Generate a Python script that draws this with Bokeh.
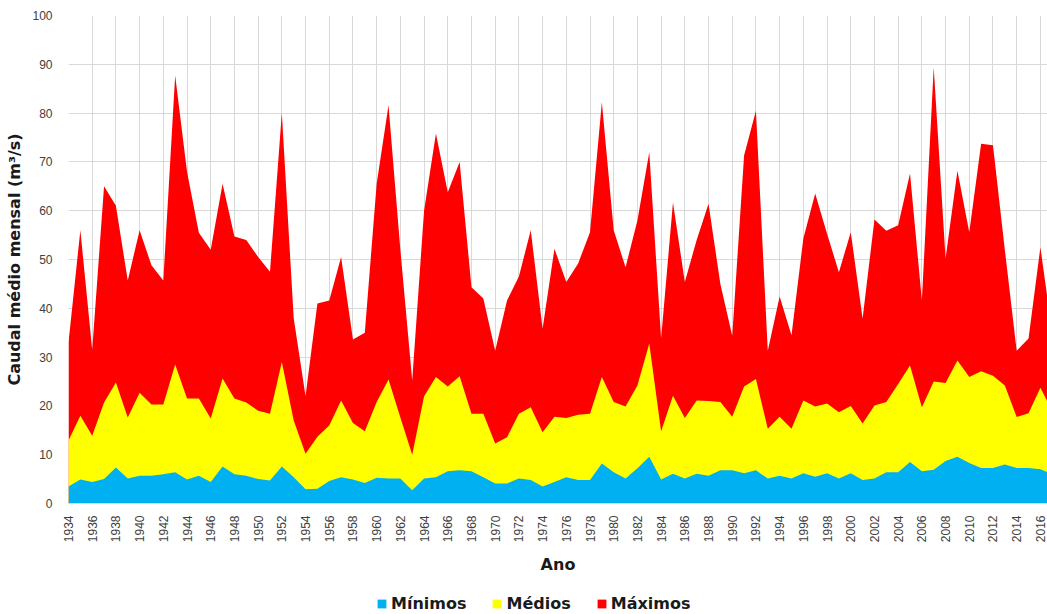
import math
from bokeh.plotting import figure
from bokeh.models import FixedTicker, Legend, LegendItem, Range1d
from bokeh.layouts import column
from bokeh.embed import file_html
from bokeh.resources import INLINE

years = list(range(1934, 2018))

maximos = [33, 56, 31.5, 65, 61, 45.7, 56, 48.8, 45.7, 87.7,
           68, 55.5, 52, 65.5, 54.7, 54, 50.5, 47.5, 80, 38,
           22, 41, 41.6, 50.5, 33.6, 35, 65.5, 81.6, 52, 25.2,
           60, 75.8, 63.8, 70, 44.3, 42, 31.3, 41.6, 46.5, 56,
           35.8, 52.2, 45.4, 49.2, 55.6, 82.2, 56, 48.4, 58, 72,
           33.8, 61.7, 45.4, 54, 61.4, 45, 34.4, 71.3, 80.5, 31.3,
           42.4, 34.5, 54.3, 63.5, 55.3, 47.4, 55.6, 37.9, 58.2, 55.9,
           57, 67.6, 41.6, 89.4, 50.2, 68.2, 55.6, 73.7, 73.4, 52,
           31.3, 33.8, 52.5, 35]

medios = [12.9, 18, 13.9, 20.7, 24.8, 17.6, 22.7, 20.3, 20.3, 28.5,
          21.5, 21.5, 17.4, 25.6, 21.5, 20.7, 19, 18.4, 29, 17,
          10.2, 13.7, 16, 21.1, 16.5, 14.8, 20.8, 25.4, 17.6, 10,
          22, 25.9, 24, 26.1, 18.4, 18.4, 12.3, 13.6, 18.4, 19.7,
          14.6, 17.8, 17.5, 18.2, 18.4, 25.9, 20.8, 19.9, 24.2, 32.8,
          14.8, 22.1, 17.5, 21.1, 21, 20.8, 17.8, 24, 25.5, 15.3,
          17.8, 15.3, 21.1, 19.9, 20.5, 18.7, 20, 16.4, 20.1, 20.8,
          24.5, 28.3, 19.7, 25, 24.7, 29.3, 25.9, 27.1, 26.2, 24.2,
          17.7, 18.5, 23.7, 19]

minimos = [3.5, 4.9, 4.4, 5.0, 7.4, 5.1, 5.7, 5.7, 6.0, 6.4,
           4.9, 5.7, 4.4, 7.6, 6.0, 5.7, 5.0, 4.7, 7.6, 5.4,
           2.9, 3.0, 4.6, 5.4, 4.9, 4.2, 5.3, 5.1, 5.1, 2.7,
           5.1, 5.4, 6.6, 6.8, 6.6, 5.4, 4.1, 4.1, 5.1, 4.8,
           3.5, 4.4, 5.4, 4.8, 4.8, 8.2, 6.4, 5.1, 7.2, 9.6,
           4.9, 6.1, 5.1, 6.1, 5.7, 6.8, 6.8, 6.2, 6.8, 5.1,
           5.7, 5.1, 6.2, 5.5, 6.2, 5.1, 6.2, 4.8, 5.1, 6.4,
           6.4, 8.5, 6.6, 6.9, 8.7, 9.6, 8.3, 7.3, 7.3, 8.0,
           7.3, 7.3, 7.0, 6.0]

series_labels = ["Mínimos", "Médios", "Máximos"]
tick_years = list(range(1934, 2017, 2))
y_ticks = list(range(0, 101, 10))

COL_MIN, COL_MED, COL_MAX = "#00B0F0", "#FFFF00", "#FF0000"

p = figure(width=1047, height=577, output_backend="svg", toolbar_location=None,
           x_range=Range1d(1934, 2016.6), y_range=Range1d(0, 100),
           min_border_left=68, min_border_right=0, min_border_top=15,
           min_border_bottom=0)
p.outline_line_color = None
p.background_fill_color = "white"
p.border_fill_color = "white"

p.varea(x=years, y1=0, y2=maximos, fill_color=COL_MAX)
p.varea(x=years, y1=0, y2=medios, fill_color=COL_MED)
p.varea(x=years, y1=0, y2=minimos, fill_color=COL_MIN)

p.xaxis.ticker = FixedTicker(ticks=tick_years)
p.yaxis.ticker = FixedTicker(ticks=y_ticks)
p.xaxis.major_label_orientation = math.pi / 2
p.xgrid.grid_line_color = "#D9D9D9"
p.ygrid.grid_line_color = "#D9D9D9"

for ax in (p.xaxis[0], p.yaxis[0]):
    ax.axis_line_color = "#D9D9D9"
    ax.major_tick_line_color = None
    ax.minor_tick_line_color = None
    ax.major_label_text_font = "Liberation Sans"
    ax.major_label_text_font_size = "12px"
    ax.major_label_text_color = "#404040"
    ax.axis_label_text_font = "DejaVu Sans"
    ax.axis_label_text_font_style = "bold"
    ax.axis_label_text_font_size = "16px"
    ax.axis_label_text_color = "#1a1a1a"

p.yaxis.axis_line_color = None
p.yaxis.axis_label = "Caudal médio mensal (m³/s)"
p.xaxis.axis_label = "Ano"
p.yaxis.major_label_standoff = 10
p.yaxis.axis_label_standoff = 5
p.xaxis.major_label_standoff = 6
p.xaxis.axis_label_standoff = 10

# legend strip below the chart
q = figure(width=1047, height=37, output_backend="svg", toolbar_location=None,
           x_axis_type=None, y_axis_type=None,
           x_range=Range1d(1934, 2016.6), y_range=Range1d(0, 100),
           min_border=0)
q.outline_line_color = None
q.grid.visible = False
l_min = q.varea(x=years, y1=0, y2=minimos, fill_color=COL_MIN, visible=False)
l_med = q.varea(x=years, y1=0, y2=medios, fill_color=COL_MED, visible=False)
l_max = q.varea(x=years, y1=0, y2=maximos, fill_color=COL_MAX, visible=False)

legend = Legend(items=[LegendItem(label=series_labels[0], renderers=[l_min]),
                       LegendItem(label=series_labels[1], renderers=[l_med]),
                       LegendItem(label=series_labels[2], renderers=[l_max])],
                orientation="horizontal", location=(308, 1),
                glyph_width=11, glyph_height=11, label_standoff=4, spacing=25,
                padding=0, margin=0, border_line_color=None,
                background_fill_alpha=0, inactive_fill_alpha=0,
                label_text_font="DejaVu Sans", label_text_font_style="bold",
                label_text_font_size="16px", label_text_color="#1a1a1a")
q.add_layout(legend, "center")

open("out.html", "w").write(file_html(column(p, q, spacing=0), INLINE))
